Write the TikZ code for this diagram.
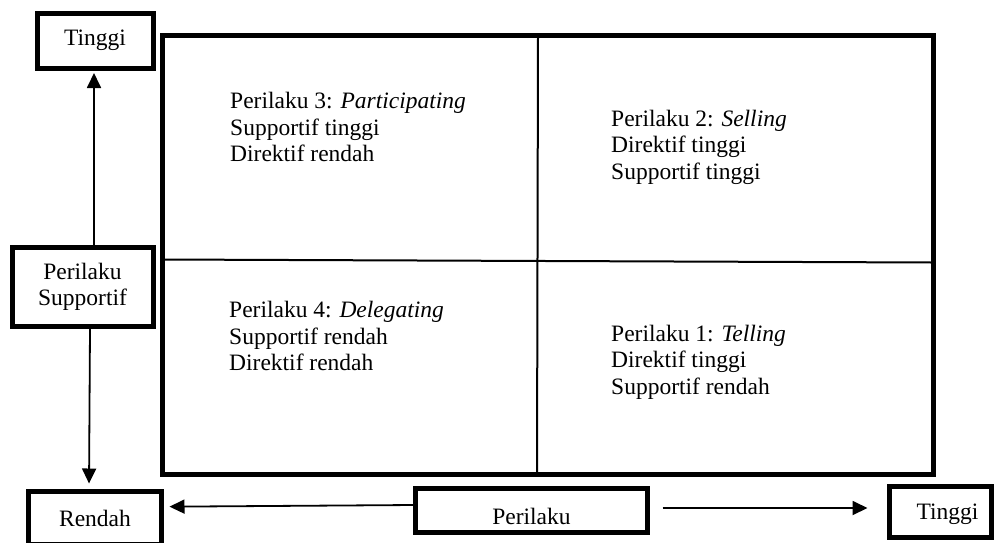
\documentclass[tikz,border=0pt]{standalone}
\usepackage{fontspec}
\setmainfont{Liberation Serif}
\usetikzlibrary{arrows.meta}
\begin{document}
\begin{tikzpicture}[x=1pt,y=-1pt,
  txt/.style={font=\fontsize{23.5}{26.5}\selectfont},
  boxnode/.style={txt,draw,line width=5pt,inner sep=0pt,align=center},
  quad/.style={txt,inner sep=0pt,align=left,anchor=west},
  arr/.style={line width=1.8pt,-{Triangle[length=15pt,width=14pt]}},
  divider/.style={line width=2pt}]
\useasboundingbox (0,0) rectangle (995,542);
\node[draw,line width=5pt,minimum width=770.5pt,minimum height=439pt,inner sep=0pt] (grid) at (547.75,254.5) {};
\coordinate (vt) at (538,35);
\coordinate (vb) at (537,474);
\coordinate (hl) at (162.5,259.5);
\coordinate (hr) at (933,262.5);
\draw[divider] (vt) -- (vb);
\draw[divider] (hl) -- (hr);
\node[quad] (q3) at (230,127) {Perilaku 3: \textit{Participating}\\Supportif tinggi\\Direktif rendah};
\node[quad] (q2) at (611,147) {Perilaku 2: \textit{Selling}\\Direktif tinggi\\Supportif tinggi};
\node[quad] (q4) at (229,336) {Perilaku 4: \textit{Delegating}\\Supportif rendah\\Direktif rendah};
\node[quad] (q1) at (611,362) {Perilaku 1: \textit{Telling}\\Direktif tinggi\\Supportif rendah};
\node[boxnode,minimum width=116pt,minimum height=55pt] (tinggiL) at (95,40.5) {Tinggi};
\node[boxnode,minimum width=141pt,minimum height=78.5pt] (supp) at (82.5,286.75) {Perilaku\\Supportif};
\node[boxnode,minimum width=133pt,minimum height=53pt] (rendah) at (95,518) {Rendah};
\node[boxnode,minimum width=232pt,minimum height=44pt] (perilaku) at (531.5,510.5) {\raisebox{-6pt}[\height][\depth]{Perilaku}};
\node[boxnode,minimum width=102pt,minimum height=51.5pt] (tinggiR) at (940,512) {\hspace*{15pt}\raisebox{-2pt}[\height][\depth]{Tinggi}};
\draw[arr,shorten >=2.5pt] ([xshift=11.5pt]supp.north) -- ([xshift=-1pt]tinggiL.south);
\draw[arr,shorten >=5.5pt] ([xshift=7.5pt]supp.south) -- ([xshift=-6pt]rendah.north);
\draw[arr,shorten >=5.5pt] ([yshift=5.5pt]perilaku.west) -- ([yshift=11.3pt]rendah.east);
\draw[arr,shorten <=12.5pt,shorten >=19pt] ([yshift=2.5pt]perilaku.east) -- ([yshift=4pt]tinggiR.west);
\end{tikzpicture}
\end{document}
